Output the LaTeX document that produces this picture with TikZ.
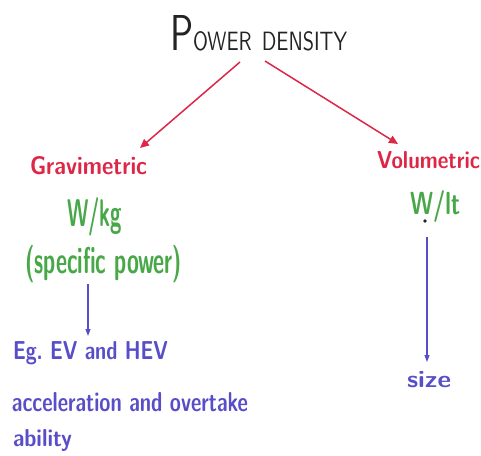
\documentclass[tikz,border=0pt]{standalone}
\usepackage{fontspec}
\usepackage{graphicx}
\usetikzlibrary{arrows.meta}
\definecolor{pdred}{RGB}{222,38,70}
\definecolor{pdgreen}{RGB}{72,168,72}
\definecolor{pdblue}{RGB}{88,78,200}
\definecolor{pdink}{RGB}{35,35,35}
\newcommand{\fitto}[3]{\resizebox{#1pt}{#2pt}{#3}}
\begin{document}
\begin{tikzpicture}[x=1pt,y=-1pt,
  lbl/.style={inner sep=0pt, outer sep=0pt, anchor=base west, font=\sffamily},
  hand/.style={lbl, font=\sffamily\bfseries},
  redarrow/.style={draw=pdred, line width=1.5pt, -{Triangle[length=9pt,width=8pt]}},
  bluearrow/.style={draw=pdblue, line width=1.1pt, -{Triangle[length=7pt,width=5pt]}}]
\useasboundingbox[fill=white] (0,0) rectangle (481,455);

\node[lbl, text=pdink] (pd) at (170,50)
  {\fitto{177}{35}{{\fontsize{20}{20}\selectfont P}{\fontsize{10.5}{11}\selectfont OWER\enspace DENSITY}}};

\node[hand, text=pdred] (grav) at (30,174) {\fitto{117}{18}{Gravimetric}};
\node[hand, text=pdgreen] (wkg) at (67,226) {\fitto{55}{29}{W/kg}};
\node[hand, text=pdgreen] (spec) at (25,273) {\fitto{157}{28}{(specific power)}};
\node[hand, text=pdblue] (eg) at (13,359) {\fitto{155}{18}{Eg.\ EV and HEV}};
\node[hand, text=pdblue] (acc) at (12,411) {\fitto{236}{19}{acceleration and overtake}};
\node[hand, text=pdblue] (abil) at (13,446) {\fitto{59}{17}{ability}};

\node[hand, text=pdred] (vol) at (377,168) {\fitto{103}{17}{Volumetric}};
\node[hand, text=pdgreen] (wlt) at (410,214) {\fitto{50}{24}{W/lt}};
\node[circle, fill=pdink, inner sep=1.4pt] (dot) at (425,221) {};
\node[hand, text=pdblue] (size) at (407,387) {\fitto{44}{16}{size}};

\coordinate (pdl) at (240,62);
\coordinate (pdr) at (265,61);
\coordinate (gravt) at (140,148);
\coordinate (volt) at (398,144);
\coordinate (spb) at (88,284);
\coordinate (egt) at (88,336);
\coordinate (dotb) at (427,237);
\coordinate (sizet) at (427,362);

\draw[redarrow] (pdl) -- (gravt);
\draw[redarrow] (pdr) -- (volt);
\draw[bluearrow] (spb) -- (egt);
\draw[bluearrow] (dotb) -- (sizet);
\end{tikzpicture}
\end{document}
